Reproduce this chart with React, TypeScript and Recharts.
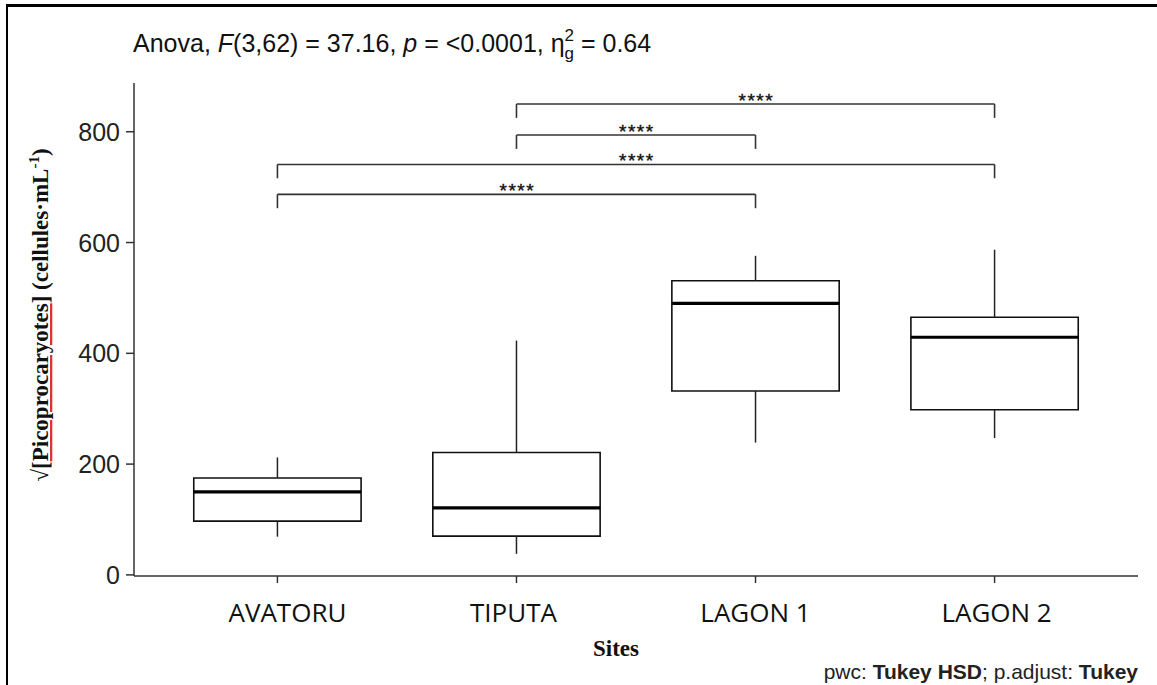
import React from 'react';
import { ComposedChart, XAxis, YAxis, Scatter, ReferenceArea, ReferenceLine } from 'recharts';

const categories = ['AVATORU', 'TIPUTA', 'LAGON 1', 'LAGON 2'];
const whiskerLow = [69, 38, 239, 247];
const q1 = [97, 70, 332, 298];
const median = [150, 121, 490, 429];
const q3 = [175, 221, 531, 465];
const whiskerHigh = [212, 423, 576, 587];

const bracketFrom = [2, 2, 1, 1];
const bracketTo = [4, 3, 4, 3];
const bracketY = [850, 794, 741, 687];
const bracketLabels = ['****', '****', '****', '****'];
const tipLength = 25;

const yTicks = [0, 200, 400, 600, 800];
const boxHalf = 0.35;

// small horizontal nudges of the category labels, as in the reference figure
const labelNudge = [10, -3, 0, 2];

const boxData = categories.map((name, i) => ({ x: i + 1, name, median: median[i] }));

const axisColor = '#333';

const XTick = (props: any) => {
  const { x, y, payload } = props;
  const idx = Math.round(payload.value) - 1;
  return (
    <text x={x + (labelNudge[idx] || 0)} y={y + 37} textAnchor="middle" fontFamily="'Open Sans', sans-serif" fontSize={26} fill="#111">
      {categories[idx]}
    </text>
  );
};

const YTick = (props: any) => {
  const { x, y, payload } = props;
  return (
    <text x={x} y={y + 9} textAnchor="end" fontFamily="'Liberation Sans', Arial, sans-serif" fontSize={25} fill="#222">
      {payload.value}
    </text>
  );
};

const StarLabel = (props: any) => {
  const { viewBox, value } = props;
  if (!viewBox) return null;
  const cx = viewBox.x + viewBox.width / 2 + 0.8;
  return (
    <text x={cx} y={viewBox.y + 3} textAnchor="middle" fontFamily="'Liberation Sans', Arial, sans-serif" fontSize={19} letterSpacing={1.5} fill="#111" stroke="#111" strokeWidth={0.4}>
      {value}
    </text>
  );
};

export default function App() {
  return (
    <div style={{ position: 'absolute', left: 0, top: 0, width: 1157, height: 685, background: '#fff', overflow: 'hidden' }}>
      <div style={{ position: 'absolute', left: 6, top: 4, width: 1160, height: 700, borderTop: '3px solid #000', borderLeft: '2px solid #000' }} />
      <ComposedChart width={1157} height={685} data={boxData} margin={{ top: 83, right: 19, bottom: 0, left: 0 }}>
        <XAxis
          type="number"
          dataKey="x"
          domain={[0.4, 4.6]}
          ticks={[1, 2, 3, 4]}
          allowDataOverflow
          height={109}
          tick={<XTick />}
          tickSize={7}
          axisLine={{ stroke: axisColor, strokeWidth: 1.5 }}
          tickLine={{ stroke: axisColor, strokeWidth: 1.5 }}
        />
        <YAxis
          type="number"
          domain={[-2, 888]}
          ticks={yTicks}
          allowDataOverflow
          width={134}
          tick={<YTick />}
          tickSize={8}
          tickMargin={6}
          axisLine={{ stroke: axisColor, strokeWidth: 1.5 }}
          tickLine={{ stroke: axisColor, strokeWidth: 1.5 }}
        />
        {categories.map((c, i) => (
          <ReferenceLine
            key={'wl' + c}
            segment={[{ x: i + 1, y: whiskerLow[i] }, { x: i + 1, y: q1[i] }]}
            stroke="#222"
            strokeWidth={1.5}
            ifOverflow="visible"
          />
        ))}
        {categories.map((c, i) => (
          <ReferenceLine
            key={'wh' + c}
            segment={[{ x: i + 1, y: q3[i] }, { x: i + 1, y: whiskerHigh[i] }]}
            stroke="#222"
            strokeWidth={1.5}
            ifOverflow="visible"
          />
        ))}
        {categories.map((c, i) => (
          <ReferenceArea
            key={'box' + c}
            x1={i + 1 - boxHalf}
            x2={i + 1 + boxHalf}
            y1={q1[i]}
            y2={q3[i]}
            fill="#fff"
            fillOpacity={1}
            stroke="#111"
            strokeWidth={1.6}
            ifOverflow="visible"
          />
        ))}
        {categories.map((c, i) => (
          <ReferenceLine
            key={'med' + c}
            segment={[{ x: i + 1 - boxHalf, y: median[i] }, { x: i + 1 + boxHalf, y: median[i] }]}
            stroke="#000"
            strokeWidth={3.2}
            ifOverflow="visible"
          />
        ))}
        {bracketY.map((by, k) => (
          <ReferenceLine
            key={'bh' + k}
            segment={[{ x: bracketFrom[k], y: by }, { x: bracketTo[k], y: by }]}
            stroke="#333"
            strokeWidth={1.6}
            ifOverflow="visible"
            label={<StarLabel value={bracketLabels[k]} />}
          />
        ))}
        {bracketY.map((by, k) => (
          <ReferenceLine
            key={'bl' + k}
            segment={[{ x: bracketFrom[k], y: by }, { x: bracketFrom[k], y: by - tipLength }]}
            stroke="#333"
            strokeWidth={1.6}
            ifOverflow="visible"
          />
        ))}
        {bracketY.map((by, k) => (
          <ReferenceLine
            key={'br' + k}
            segment={[{ x: bracketTo[k], y: by }, { x: bracketTo[k], y: by - tipLength }]}
            stroke="#333"
            strokeWidth={1.6}
            ifOverflow="visible"
          />
        ))}
        <Scatter dataKey="median" isAnimationActive={false} shape={() => <g />} />
      </ComposedChart>
      <svg width={1157} height={685} style={{ position: 'absolute', left: 0, top: 0, pointerEvents: 'none' }}>
        <text x={133} y={52} fontFamily="'Liberation Sans', Arial, sans-serif" fontSize={25} fill="#111">
          <tspan>Anova, </tspan>
          <tspan fontStyle="italic">F</tspan>
          <tspan>(3,62) = 37.16, </tspan>
          <tspan fontStyle="italic">p</tspan>
          <tspan> = &lt;0.0001, η</tspan>
          <tspan fontSize={17} dy={7}>g</tspan>
          <tspan fontSize={17} dx={-9.5} dy={-18}>2</tspan>
          <tspan dy={11}> = 0.64</tspan>
        </text>
        <text
          transform="translate(48, 315) rotate(-90)"
          textAnchor="middle"
          fontFamily="'Liberation Serif', 'Times New Roman', serif"
          fontSize={23}
          fontWeight="bold"
          fill="#111"
        >
          <tspan fontWeight="normal">√</tspan>
          <tspan>[</tspan>
          <tspan fill="#e53030" style={{ textDecoration: 'underline dotted' }}>
            <tspan fill="#111">Picoprocaryotes</tspan>
          </tspan>
          <tspan>] (cellules·mL</tspan>
          <tspan fontSize={15} dy={-9}>-1</tspan>
          <tspan dy={9}>)</tspan>
        </text>
        <text x={616} y={656} textAnchor="middle" fontFamily="'Liberation Serif', 'Times New Roman', serif" fontSize={23} fontWeight="bold" fill="#111">
          Sites
        </text>
        <text x={1138} y={679} textAnchor="end" fontFamily="'Liberation Sans', Arial, sans-serif" fontSize={21} fill="#222">
          <tspan>pwc: </tspan>
          <tspan fontWeight="bold">Tukey HSD</tspan>
          <tspan>; p.adjust: </tspan>
          <tspan fontWeight="bold">Tukey</tspan>
        </text>
      </svg>
    </div>
  );
}
